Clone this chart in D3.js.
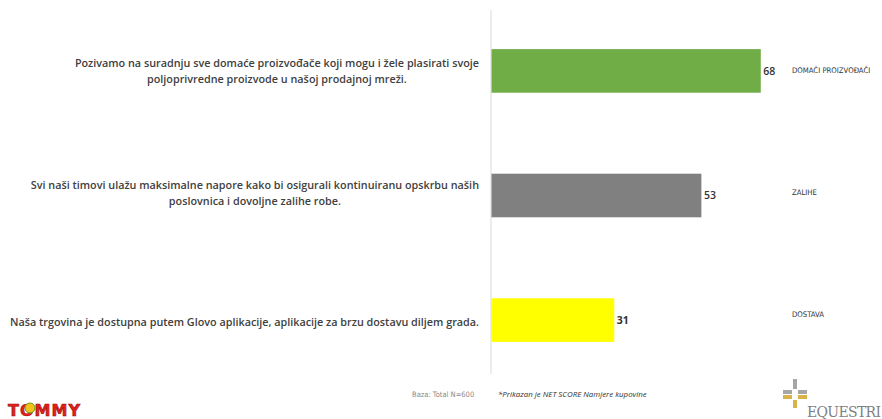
<!DOCTYPE html>
<meta charset="utf-8">
<script src="https://d3js.org/d3.v7.min.js"></script>
<style>
  body { margin: 0; background: #fff; }
</style>
<svg id="chart" width="882" height="419"></svg>
<script>
  // data
  const statements = [
    ["Pozivamo na suradnju sve domaće proizvođače koji mogu i žele plasirati svoje", "poljoprivredne proizvode u našoj prodajnoj mreži."],
    ["Svi naši timovi ulažu maksimalne napore kako bi osigurali kontinuiranu opskrbu naših", "poslovnica i dovoljne zalihe robe."],
    ["Naša trgovina je dostupna putem Glovo aplikacije, aplikacije za brzu dostavu diljem grada."]
  ];
  const tags = ["DOMAĆI PROIZVOĐAČI", "ZALIHE", "DOSTAVA"];
  const scores = [68, 53, 31];
  const barColors = ["#70ad47", "#808080", "#ffff00"];

  const svg = d3.select("#chart");
  const x0 = 491;

  const x = d3.scaleLinear().domain([0, 100]).range([x0, x0 + 396]);
  const y = d3.scaleBand().domain(d3.range(scores.length)).range([8, 383]).paddingInner(0.65).paddingOuter(0.33);

  // axis line
  svg.append("line")
    .attr("x1", x0).attr("x2", x0)
    .attr("y1", 10).attr("y2", 374)
    .attr("stroke", "#d9d9d9").attr("stroke-width", 1);

  // bars
  svg.selectAll("rect.bar")
    .data(scores)
    .join("rect")
    .attr("class", "bar")
    .attr("x", x0 + 0.5)
    .attr("y", (d, i) => y(i))
    .attr("width", d => x(d) - x0)
    .attr("height", y.bandwidth())
    .attr("fill", (d, i) => barColors[i]);

  // value labels
  svg.selectAll("text.val")
    .data(scores)
    .join("text")
    .attr("class", "val")
    .attr("x", d => x(d) + 3)
    .attr("y", (d, i) => y(i) + y.bandwidth() / 2 + 1)
    .attr("dominant-baseline", "middle")
    .style("font-family", "'Open Sans', sans-serif")
    .style("font-size", "10.5px")
    .style("font-weight", (d, i) => i == 2 ? "700" : "600")
    .style("fill", "#333")
    .text(d => d);

  // tags on the right
  svg.selectAll("text.tag")
    .data(tags)
    .join("text")
    .attr("class", "tag")
    .attr("x", 792)
    .attr("y", (d, i) => y(i) + y.bandwidth() / 2 + [0, -3, -5][i])
    .attr("dominant-baseline", "middle")
    .style("font-family", "'DejaVu Sans Condensed', 'Liberation Sans Narrow', sans-serif")
    .style("font-size", "7.7px")
    .style("fill", "#333")
    .text(d => d);

  // statement labels: lines centred, block right aligned at 479
  const lab = svg.append("g")
    .style("font-family", "'Open Sans', sans-serif")
    .style("font-size", "10.8px")
    .style("font-weight", "600")
    .style("fill", "#404040");

  statements.forEach((lines, i) => {
    const g = lab.append("g");
    const cy = y(i) + y.bandwidth() / 2 + [1, -1, 3][i];
    const lh = 16;
    const texts = g.selectAll("text")
      .data(lines)
      .join("text")
      .attr("y", (d, j) => cy + (j - (lines.length - 1) / 2) * lh)
      .attr("dominant-baseline", "middle")
      .attr("text-anchor", "middle")
      .text(d => d);
    let w = 0;
    texts.each(function() { w = Math.max(w, this.getComputedTextLength()); });
    texts.attr("x", 479 - w / 2);
  });

  // footer
  svg.append("text")
    .attr("x", 412).attr("y", 397)
    .style("font-family", "'DejaVu Sans Condensed', sans-serif")
    .style("font-size", "7.5px")
    .style("fill", "#8a8a8a")
    .text("Baza: Total N=600");

  svg.append("text")
    .attr("x", 498).attr("y", 397)
    .style("font-family", "'Open Sans', sans-serif")
    .style("font-size", "7.9px")
    .style("font-style", "italic")
    .style("fill", "#333")
    .text("*Prikazan je NET SCORE Namjere kupovine");

  // TOMMY logo
  svg.append("text")
    .attr("x", 8).attr("y", 416)
    .style("font-family", "'DejaVu Sans', sans-serif")
    .style("font-size", "16px")
    .style("font-weight", "900")
    .style("fill", "#e3201b")
    .style("stroke", "#9c1010")
    .style("stroke-width", 0.6)
    .attr("textLength", 72)
    .text("TOMMY");
  svg.append("circle")
    .attr("cx", 30).attr("cy", 408).attr("r", 5)
    .attr("fill", "#f2c21b").attr("stroke", "#6a9a1c").attr("stroke-width", 1);

  // EQUESTRIS logo (cut at the edge in the source, only the visible part)
  const eq = svg.append("g").attr("transform", "translate(795,393)");
  eq.append("path")
    .attr("d", "M-2,-14 L2,-14 L2,-4 L-2,-4 Z M-12,-3 L-3,-3 L-3,1 L-12,1 Z M3,-3 L12,-3 L12,1 L3,1 Z")
    .attr("fill", "#a6a6a6");
  eq.append("path")
    .attr("d", "M-12,2 L-3,2 L-3,6 L-12,6 Z M3,2 L12,2 L12,6 L3,6 Z M-2,7 L2,7 L2,15 L-2,15 Z")
    .attr("fill", "#d8b24a");
  svg.append("text")
    .attr("x", 807).attr("y", 417)
    .style("font-family", "'DejaVu Serif', 'Liberation Serif', serif")
    .style("font-size", "14px")
    .style("fill", "#7f7f7f")
    .attr("textLength", 74)
    .text("EQUESTRI");
</script>
